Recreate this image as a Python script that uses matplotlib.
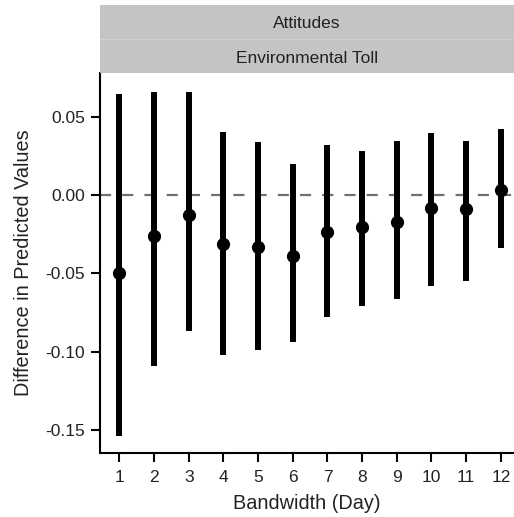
import matplotlib.pyplot as plt
import numpy as np

plt.rcParams['font.family'] = ['Liberation Sans', 'DejaVu Sans']

bandwidth = [1, 2, 3, 4, 5, 6, 7, 8, 9, 10, 11, 12]
estimate = [-0.050, -0.026, -0.0128, -0.031, -0.033, -0.039,
            -0.0238, -0.0202, -0.017, -0.0085, -0.0089, 0.0032]
upper = [0.0645, 0.066, 0.066, 0.0404, 0.034, 0.0196,
         0.0317, 0.028, 0.0347, 0.0398, 0.0347, 0.0419]
lower = [-0.154, -0.109, -0.0866, -0.102, -0.099, -0.0936,
         -0.0777, -0.0708, -0.0664, -0.0579, -0.0549, -0.034]
yticks = [0.05, 0.00, -0.05, -0.10, -0.15]
facet_labels = ['Attitudes', 'Environmental Toll']

W, H = 514, 517
fig = plt.figure(figsize=(W / 100, H / 100), dpi=100)

ax_left, ax_right = 100 / W, 1.0
ax_bottom, ax_top = 1 - 453 / H, 1 - 72.7 / H
ax = fig.add_axes([ax_left, ax_bottom, ax_right - ax_left, ax_top - ax_bottom])

ax.axhline(0, color='#707070', linestyle=(0, (5, 5)), linewidth=1.6, zorder=1)
ax.vlines(bandwidth, lower, upper, color='black', linewidth=4.3, zorder=2)
ax.plot(bandwidth, estimate, 'o', color='black', markersize=8.5, zorder=3)

ax.set_xlim(0.44, 12.38)
ax.set_ylim(-0.1646, 0.078)
ax.set_xticks(bandwidth)
ax.set_yticks(yticks)
ax.set_yticklabels(['%.2f' % v for v in yticks])

for s in ['top', 'right']:
    ax.spines[s].set_visible(False)
for s in ['left', 'bottom']:
    ax.spines[s].set_linewidth(1.5)
ax.tick_params(axis='both', length=6.5, width=1.5, labelsize=12.5, colors='black',
               labelcolor='#222222', pad=4.3)
ax.tick_params(axis='x', pad=6)

ax.set_xlabel('Bandwidth (Day)', fontsize=14.3, color='#222222', labelpad=6)
ax.set_ylabel('Difference in Predicted Values', fontsize=14.3, color='#222222', labelpad=9)

# facet strips
strip_top = 1 - 5 / H
strip = fig.add_axes([ax_left, ax_top, ax_right - ax_left, strip_top - ax_top])
strip.set_facecolor('#c4c4c4')
strip.set_xlim(0, 1)
strip.set_ylim(0, 2)
strip.set_xticks([])
strip.set_yticks([])
for s in strip.spines.values():
    s.set_visible(False)
strip.axhline(1, color='#d0d0d0', linewidth=0.8)
strip.text(0.5, 1.45, facet_labels[0], ha='center', va='center', fontsize=12.5, color='#222222')
strip.text(0.5, 0.42, facet_labels[1], ha='center', va='center', fontsize=12.5, color='#222222')

fig.savefig('out.png', dpi=100)
